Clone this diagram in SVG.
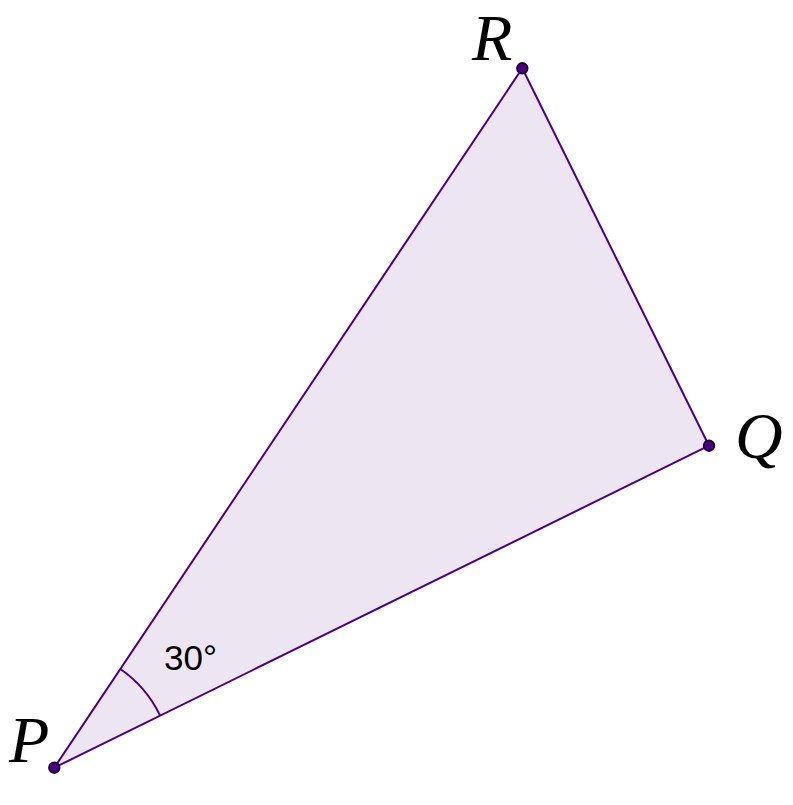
<svg xmlns="http://www.w3.org/2000/svg" width="793" height="805" viewBox="0 0 793 805">
<style>
.edge{stroke:#4b0082;stroke-width:2;fill:none}
.pt{fill:#4b0082;stroke:#1a0030;stroke-width:1.8}
.lbl{font-family:"Liberation Serif",serif;font-style:italic;font-size:66px;fill:#000}
.ang{font-family:"Liberation Sans",Arial,sans-serif;font-size:35px;fill:#000}
</style>
<rect width="793" height="805" fill="#fff"/>
<g id="triangle">
<polygon points="54.3,767.7 709,445.7 522.3,68.3" fill="#ede5f2" stroke="none"/>
</g>
<g id="connectors">
<line class="edge" x1="54.3" y1="767.7" x2="709" y2="445.7"/>
<line class="edge" x1="709" y1="445.7" x2="522.3" y2="68.3"/>
<line class="edge" x1="522.3" y1="68.3" x2="54.3" y2="767.7"/>
<path class="edge" d="M120.7,669.3 A118.5,118.5 0 0 1 160,715.5"/>
</g>
<g id="node-P">
<circle class="pt" cx="54.3" cy="767.7" r="5.3"/>
<text class="lbl" x="9" y="762">P</text>
</g>
<g id="node-Q">
<circle class="pt" cx="709" cy="445.7" r="5.3"/>
<text class="lbl" x="735" y="458">Q</text>
</g>
<g id="node-R">
<circle class="pt" cx="522.3" cy="68.3" r="5.3"/>
<text class="lbl" x="472" y="60">R</text>
</g>
<g id="angle-label">
<text class="ang" x="164" y="670">30°</text>
</g>
</svg>
